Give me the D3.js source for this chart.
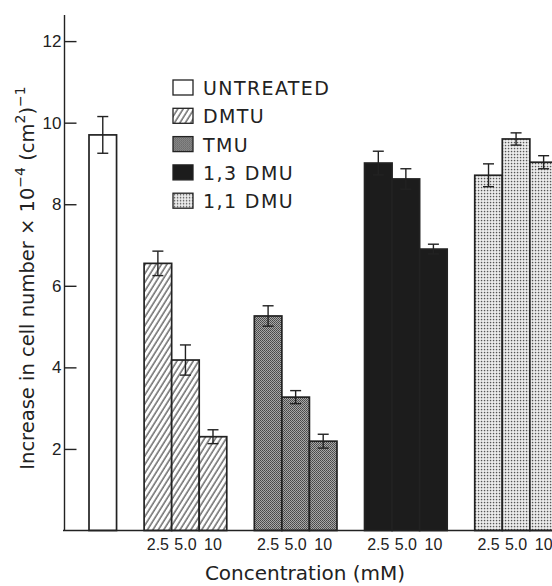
<!DOCTYPE html>
<html>
<head>
<meta charset="utf-8">
<script src="https://cdn.jsdelivr.net/npm/d3@7"></script>
<style>
    body { margin: 0; background: #fff; }
    svg { display: block; font-family: 'DejaVu Sans', sans-serif; }
</style>
</head>
<body>
<script>
// data
var groups         = ['UNTREATED', 'DMTU', 'TMU', '1,3 DMU', '1,1 DMU'];
var concentrations = ['2.5', '5.0', '10'];
var untreatedMean  = [9.7];
var untreatedErr   = [0.45];
var dmtuMean       = [6.55, 4.18, 2.30];
var dmtuErr        = [0.30, 0.37, 0.17];
var tmuMean        = [5.26, 3.27, 2.19];
var tmuErr         = [0.25, 0.16, 0.17];
var dmu13Mean      = [9.01, 8.62, 6.90];
var dmu13Err       = [0.29, 0.25, 0.12];
var dmu11Mean      = [8.71, 9.60, 9.03];
var dmu11Err       = [0.28, 0.15, 0.16];
var yTicks         = [2, 4, 6, 8, 10, 12];

// init
var width  = 552,
    height = 586,
    axisX  = 64.5,
    yTop   = 15,
    yBase  = 530.5;

var fills = {
    'UNTREATED': '#fff',
    'DMTU': 'url(#hatch)',
    'TMU': 'url(#stipple)',
    '1,3 DMU': '#1c1c1c',
    '1,1 DMU': 'url(#dots)'
};

// build bar list + slot keys (one empty slot between groups)
var bars = [{ group: 'UNTREATED', conc: null, key: 'UNTREATED', mean: untreatedMean[0], err: untreatedErr[0] }];
var slots = ['UNTREATED'];
var treated = [
    ['DMTU', dmtuMean, dmtuErr],
    ['TMU', tmuMean, tmuErr],
    ['1,3 DMU', dmu13Mean, dmu13Err],
    ['1,1 DMU', dmu11Mean, dmu11Err]
];
treated.forEach(function (t, gi) {
    slots.push('gap' + gi);
    concentrations.forEach(function (c, i) {
        var key = t[0] + '|' + c;
        slots.push(key);
        bars.push({ group: t[0], conc: c, key: key, mean: t[1][i], err: t[2][i] });
    });
});

// scales
var xScale = d3.scaleBand().domain(slots).range([89, 557.4]);
var yScale = d3.scaleLinear().domain([0, 12.64]).range([yBase, yTop]);

// create svg
var svg = d3.select('body')
    .append('svg')
    .attr('width', width)
    .attr('height', height);

/**
 * fill patterns
 */
function drawDefs() {
    var defs = svg.append('defs');

    var hatch = defs.append('pattern')
        .attr('id', 'hatch')
        .attr('patternUnits', 'userSpaceOnUse')
        .attr('width', 4.6)
        .attr('height', 10)
        .attr('patternTransform', 'rotate(32)');
    hatch.append('rect').attr('width', 4.6).attr('height', 10).attr('fill', '#fff');
    hatch.append('line')
        .attr('x1', 1).attr('x2', 1).attr('y1', 0).attr('y2', 10)
        .attr('stroke', '#222').attr('stroke-width', 1);

    var stipple = defs.append('pattern')
        .attr('id', 'stipple')
        .attr('patternUnits', 'userSpaceOnUse')
        .attr('width', 2)
        .attr('height', 2);
    stipple.append('rect').attr('width', 2).attr('height', 2).attr('fill', '#a8a8a8');
    stipple.append('rect').attr('width', 1).attr('height', 1).attr('fill', '#484848');
    stipple.append('rect').attr('x', 1).attr('y', 1).attr('width', 1).attr('height', 1).attr('fill', '#555');

    var dots = defs.append('pattern')
        .attr('id', 'dots')
        .attr('patternUnits', 'userSpaceOnUse')
        .attr('width', 3)
        .attr('height', 3);
    dots.append('rect').attr('width', 3).attr('height', 3).attr('fill', '#f4f4f4');
    dots.append('rect').attr('x', 0.8).attr('y', 0.8).attr('width', 1.5).attr('height', 1.5).attr('fill', '#555');
}

/**
 * draw y-axis
 */
function drawYAxis() {
    var y_axis = d3.axisRight(yScale)
        .tickValues(yTicks)
        .tickSize(12)
        .tickFormat(d3.format('d'));
    var g = svg.append('g')
        .attr('transform', 'translate(' + axisX + ',0)')
        .call(y_axis);
    g.select('.domain').remove();
    g.selectAll('line').attr('stroke', '#222').attr('stroke-width', 1.4);
    g.selectAll('text')
        .attr('x', -3)
        .attr('text-anchor', 'end')
        .attr('font-size', 17)
        .attr('fill', '#222');
    // axis line
    svg.append('line')
        .attr('x1', axisX).attr('x2', axisX)
        .attr('y1', yTop).attr('y2', yBase)
        .attr('stroke', '#222').attr('stroke-width', 1.4);
    // baseline
    svg.append('line')
        .attr('x1', axisX - 1.5).attr('x2', width)
        .attr('y1', yBase).attr('y2', yBase)
        .attr('stroke', '#222').attr('stroke-width', 1.4);
}

/**
 * draw x-axis (concentration labels under treated bars)
 */
function drawXAxis() {
    var x_axis = d3.axisBottom(xScale)
        .tickValues(bars.filter(function (d) { return d.conc; }).map(function (d) { return d.key; }))
        .tickSize(0)
        .tickPadding(8)
        .tickFormat(function (d) { return d.split('|')[1]; });
    var g = svg.append('g')
        .attr('transform', 'translate(0,' + yBase + ')')
        .call(x_axis);
    g.select('.domain').remove();
    g.selectAll('text')
        .attr('font-size', 16)
        .attr('fill', '#222');
}

/**
 * draw bars and error bars
 */
function drawBars() {
    var g = svg.append('g');
    g.selectAll('rect')
        .data(bars)
        .join('rect')
        .attr('x', function (d) { return xScale(d.key); })
        .attr('y', function (d) { return yScale(d.mean); })
        .attr('width', xScale.bandwidth())
        .attr('height', function (d) { return yBase - yScale(d.mean); })
        .attr('fill', function (d) { return fills[d.group]; })
        .attr('stroke', '#222')
        .attr('stroke-width', 1.7);

    var err = svg.append('g')
        .attr('stroke', '#222')
        .attr('stroke-width', 1.4)
        .selectAll('g')
        .data(bars)
        .join('g')
        .attr('transform', function (d) { return 'translate(' + (xScale(d.key) + xScale.bandwidth() / 2) + ',0)'; });
    err.append('line')
        .attr('y1', function (d) { return yScale(d.mean + d.err); })
        .attr('y2', function (d) { return yScale(d.mean - d.err); });
    [1, -1].forEach(function (s) {
        err.append('line')
            .attr('x1', -5.5).attr('x2', 5.5)
            .attr('y1', function (d) { return yScale(d.mean + s * d.err); })
            .attr('y2', function (d) { return yScale(d.mean + s * d.err); });
    });
}

/**
 * draw legend
 */
function drawLegend() {
    var row = svg.append('g')
        .selectAll('g')
        .data(groups)
        .join('g')
        .attr('transform', function (d, i) { return 'translate(173,' + (95 + i * 28.3) + ')'; });
    row.append('rect')
        .attr('x', 0).attr('y', -15)
        .attr('width', 20).attr('height', 15)
        .attr('fill', function (d) { return fills[d]; })
        .attr('stroke', '#222')
        .attr('stroke-width', 1.3);
    row.append('text')
        .attr('x', 30)
        .attr('font-size', 19)
        .attr('letter-spacing', 1.4)
        .attr('fill', '#222')
        .text(function (d) { return d; });
}

/**
 * axis titles
 */
function drawTitles() {
    svg.append('text')
        .attr('x', 305)
        .attr('y', 580)
        .attr('text-anchor', 'middle')
        .attr('font-size', 20)
        .attr('fill', '#222')
        .text('Concentration (mM)');

    var t = svg.append('text')
        .attr('transform', 'translate(34,278) rotate(-90)')
        .attr('text-anchor', 'middle')
        .attr('font-size', 19.5)
        .attr('fill', '#222');
    t.append('tspan').text('Increase in cell number \u00d7 10');
    t.append('tspan').attr('dy', -9).attr('font-size', 14).text('\u22124');
    t.append('tspan').attr('dy', 9).text(' (cm');
    t.append('tspan').attr('dy', -9).attr('font-size', 14).text('2');
    t.append('tspan').attr('dy', 9).text(')');
    t.append('tspan').attr('dy', -9).attr('font-size', 14).text('\u22121');
}

function draw() {
    drawDefs();
    drawBars();
    drawYAxis();
    drawXAxis();
    drawLegend();
    drawTitles();
}

draw();
</script>
</body>
</html>
